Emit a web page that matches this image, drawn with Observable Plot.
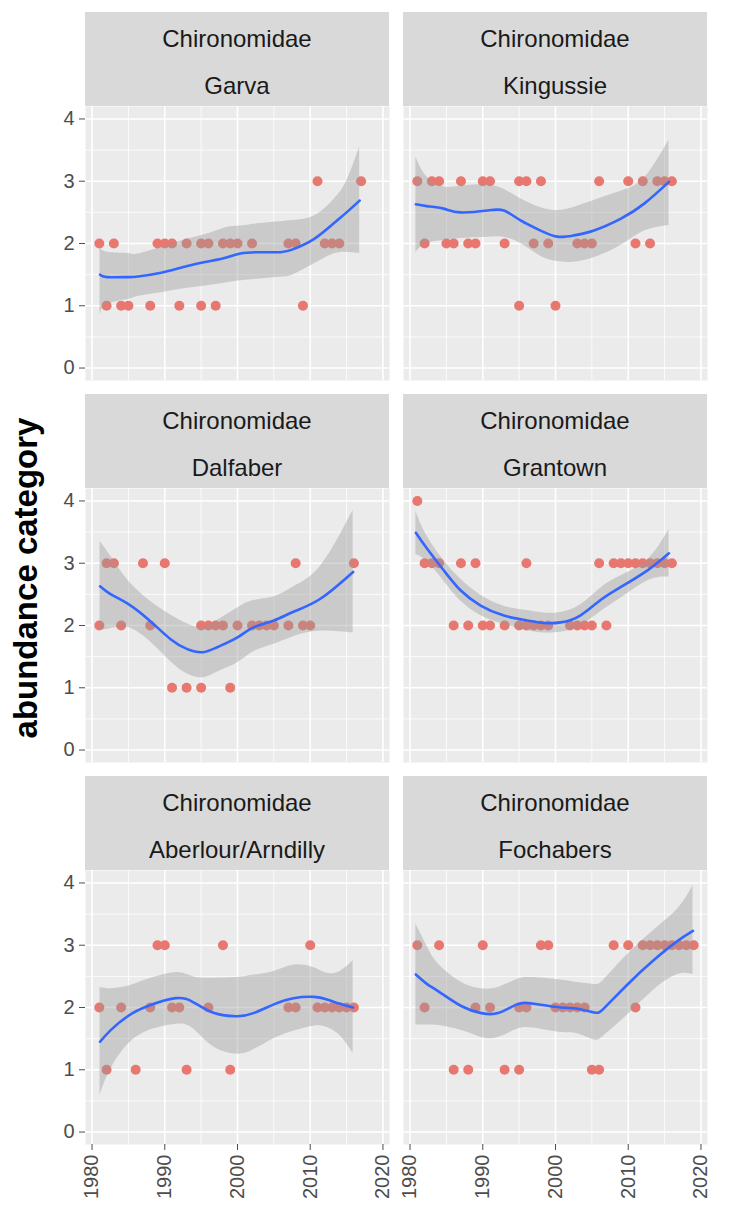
<!DOCTYPE html>
<html>
<head>
<meta charset="utf-8">
<script src="https://cdn.jsdelivr.net/npm/d3@7"></script>
<script src="https://cdn.jsdelivr.net/npm/@observablehq/plot@0.6"></script>
<style>
  html, body { margin: 0; padding: 0; background: #ffffff; }
  #root { position: relative; width: 732px; height: 1209px; background: #ffffff;
          font-family: "Liberation Sans", Arial, sans-serif; overflow: hidden; }
  .strip { position: absolute; background: #D9D9D9; color: #1A1A1A; text-align: center;
           font-size: 24px; line-height: 47px; box-sizing: border-box; padding-top: 3px; }
  .cell { position: absolute; }
  .cell svg { overflow: visible; }
</style>
</head>
<body>
<div id="root"></div>
<script>
// ---------------- data ----------------
const taxon = "Chironomidae";
const sites = ["Garva", "Kingussie", "Dalfaber", "Grantown", "Aberlour/Arndilly", "Fochabers"];
const yTitle = "abundance category";
const yTicks = [0, 1, 2, 3, 4];
const yMinor = [0.5, 1.5, 2.5, 3.5];
const xTicks = [1980, 1990, 2000, 2010, 2020];
const xMinor = [1985, 1995, 2005, 2015];

// observed abundance categories: years for each category
const garvaObs = {1: [1982, 1984, 1985, 1988, 1992, 1995, 1997, 2009],
  2: [1981, 1983, 1989, 1990, 1991, 1993, 1995, 1996, 1998, 1999, 2000, 2002, 2007, 2008, 2012, 2013, 2014],
  3: [2011, 2017]};
const kingussieObs = {1: [1995, 2000],
  2: [1982, 1985, 1986, 1988, 1989, 1993, 1997, 1999, 2003, 2004, 2005, 2011, 2013],
  3: [1981, 1983, 1984, 1987, 1990, 1991, 1995, 1996, 1998, 2006, 2010, 2012, 2014, 2015, 2016]};
const dalfaberObs = {1: [1991, 1993, 1995, 1999],
  2: [1981, 1984, 1988, 1995, 1996, 1997, 1998, 2000, 2002, 2003, 2004, 2005, 2007, 2009, 2010],
  3: [1982, 1983, 1987, 1990, 2008, 2016]};
const grantownObs = {
  2: [1986, 1988, 1990, 1991, 1993, 1995, 1996, 1997, 1998, 1999, 2002, 2003, 2004, 2005, 2007],
  3: [1982, 1983, 1984, 1987, 1989, 1996, 2006, 2008, 2009, 2010, 2011, 2012, 2013, 2014, 2015, 2016],
  4: [1981]};
const aberlourObs = {1: [1982, 1986, 1993, 1999],
  2: [1981, 1984, 1988, 1991, 1992, 1996, 2007, 2008, 2011, 2012, 2013, 2014, 2015, 2016],
  3: [1989, 1990, 1998, 2010]};
const fochabersObs = {1: [1986, 1988, 1993, 1995, 2005, 2006],
  2: [1982, 1989, 1991, 1995, 1996, 2000, 2001, 2002, 2003, 2004, 2011],
  3: [1981, 1984, 1990, 1998, 1999, 2008, 2010, 2012, 2013, 2014, 2015, 2016, 2017, 2018, 2019]};

// loess smooth (fit) with confidence band (lo, hi)
const garvaYear = [1981.1, 1982.1, 1984.9, 1986.3, 1989.5, 1993.1, 1996.3, 1998.6, 2000.4, 2003.1, 2005.9, 2007.7, 2010.5, 2013.2, 2015.0, 2016.8];
const garvaFit  = [1.50, 1.46, 1.46, 1.47, 1.53, 1.64, 1.72, 1.78, 1.84, 1.86, 1.86, 1.91, 2.07, 2.32, 2.50, 2.69];
const garvaHi   = [1.94, 1.86, 1.84, 1.83, 1.94, 2.07, 2.17, 2.26, 2.28, 2.32, 2.35, 2.37, 2.44, 2.70, 3.00, 3.55];
const garvaLo   = [0.84, 1.02, 1.10, 1.15, 1.21, 1.28, 1.33, 1.37, 1.40, 1.43, 1.46, 1.50, 1.67, 1.83, 1.86, 1.84];

const kingussieYear = [1980.8, 1982.3, 1984.6, 1986.9, 1990.6, 1992.9, 1995.2, 1997.9, 2000.2, 2002.5, 2005.3, 2009.0, 2012.2, 2015.6];
const kingussieFit  = [2.63, 2.60, 2.56, 2.50, 2.53, 2.53, 2.37, 2.21, 2.11, 2.13, 2.21, 2.40, 2.64, 2.99];
const kingussieHi   = [3.39, 3.07, 2.91, 2.92, 2.94, 2.87, 2.72, 2.58, 2.53, 2.58, 2.69, 2.84, 3.05, 3.66];
const kingussieLo   = [1.86, 2.00, 2.05, 2.08, 2.10, 2.10, 2.00, 1.80, 1.71, 1.70, 1.77, 1.97, 2.20, 2.29];

const dalfaberYear = [1981.1, 1982.6, 1984.9, 1987.9, 1990.8, 1993.1, 1995.2, 1997.2, 2000.0, 2002.2, 2005.0, 2007.7, 2011.4, 2015.9];
const dalfaberFit  = [2.63, 2.50, 2.35, 2.08, 1.78, 1.62, 1.57, 1.65, 1.81, 1.97, 2.08, 2.22, 2.43, 2.86];
const dalfaberHi   = [3.35, 3.11, 2.73, 2.40, 2.17, 2.03, 1.97, 2.08, 2.28, 2.40, 2.46, 2.62, 2.95, 3.85];
const dalfaberLo   = [1.92, 1.95, 1.97, 1.75, 1.42, 1.22, 1.16, 1.25, 1.40, 1.58, 1.70, 1.82, 1.91, 1.88];

const grantownYear = [1980.8, 1982.3, 1984.6, 1986.9, 1989.7, 1992.9, 1996.1, 1998.4, 2000.7, 2003.4, 2006.2, 2009.0, 2012.7, 2015.6];
const grantownFit  = [3.49, 3.24, 2.89, 2.57, 2.32, 2.16, 2.08, 2.04, 2.05, 2.16, 2.41, 2.62, 2.89, 3.16];
const grantownHi   = [3.84, 3.44, 3.05, 2.75, 2.49, 2.31, 2.24, 2.20, 2.21, 2.33, 2.60, 2.80, 3.06, 3.54];
const grantownLo   = [3.14, 3.03, 2.72, 2.40, 2.16, 2.02, 1.92, 1.88, 1.89, 1.99, 2.22, 2.44, 2.72, 2.78];

const aberlourYear = [1981.1, 1982.6, 1984.9, 1987.6, 1991.5, 1994.0, 1996.8, 2000.0, 2002.2, 2005.0, 2007.7, 2010.5, 2012.3, 2014.1, 2015.9];
const aberlourFit  = [1.45, 1.64, 1.86, 2.02, 2.15, 2.08, 1.91, 1.86, 1.91, 2.05, 2.15, 2.17, 2.13, 2.06, 2.00];
const aberlourHi   = [2.32, 2.30, 2.34, 2.45, 2.56, 2.49, 2.47, 2.48, 2.52, 2.58, 2.68, 2.64, 2.55, 2.58, 2.75];
const aberlourLo   = [0.59, 1.02, 1.40, 1.62, 1.73, 1.65, 1.36, 1.25, 1.32, 1.50, 1.62, 1.70, 1.68, 1.55, 1.26];

const fochabersYear = [1980.8, 1982.3, 1983.9, 1987.1, 1989.8, 1992.1, 1994.7, 1997.0, 2000.7, 2003.0, 2005.3, 2006.7, 2009.9, 2013.6, 2016.8, 2018.9];
const fochabersFit  = [2.53, 2.38, 2.26, 2.02, 1.91, 1.91, 2.05, 2.06, 2.00, 1.98, 1.92, 1.99, 2.37, 2.77, 3.07, 3.23];
const fochabersHi   = [3.34, 2.99, 2.70, 2.40, 2.30, 2.32, 2.45, 2.48, 2.44, 2.40, 2.37, 2.45, 2.85, 3.25, 3.58, 3.96];
const fochabersLo   = [1.72, 1.72, 1.71, 1.63, 1.52, 1.52, 1.65, 1.67, 1.60, 1.58, 1.48, 1.55, 1.88, 2.29, 2.53, 2.53];

const observations = [garvaObs, kingussieObs, dalfaberObs, grantownObs, aberlourObs, fochabersObs];
const smooths = [
  [garvaYear, garvaFit, garvaLo, garvaHi],
  [kingussieYear, kingussieFit, kingussieLo, kingussieHi],
  [dalfaberYear, dalfaberFit, dalfaberLo, dalfaberHi],
  [grantownYear, grantownFit, grantownLo, grantownHi],
  [aberlourYear, aberlourFit, aberlourLo, aberlourHi],
  [fochabersYear, fochabersFit, fochabersLo, fochabersHi]
];

// ---------------- drawing ----------------
const root = document.getElementById("root");
const FONT = '"Liberation Sans", Arial, sans-serif';
const PANEL_W = 304, PANEL_H = 274, ROW_STEP = 382, STRIP_H = 94;

// y axis title
const ns = "http://www.w3.org/2000/svg";
const tsvg = document.createElementNS(ns, "svg");
tsvg.setAttribute("width", 60); tsvg.setAttribute("height", 1209);
tsvg.style.position = "absolute"; tsvg.style.left = "0px"; tsvg.style.top = "0px";
const tt = document.createElementNS(ns, "text");
tt.setAttribute("transform", "translate(37,578) rotate(-90)");
tt.setAttribute("text-anchor", "middle");
tt.setAttribute("font-family", FONT);
tt.setAttribute("font-weight", "bold");
tt.setAttribute("font-size", "33");
tt.setAttribute("fill", "#000");
tt.textContent = yTitle;
tsvg.appendChild(tt);
root.appendChild(tsvg);

sites.forEach((site, i) => {
  const col = i % 2, row = Math.floor(i / 2);
  const isLeft = col === 0, isBottom = row === 2;
  const panelLeft = isLeft ? 85 : 403;

  // strip
  const strip = document.createElement("div");
  strip.className = "strip";
  strip.style.left = panelLeft + "px";
  strip.style.top = (12 + ROW_STEP * row) + "px";
  strip.style.width = PANEL_W + "px";
  strip.style.height = STRIP_H + "px";
  strip.innerHTML = `<div>${taxon}</div><div>${site}</div>`;
  root.appendChild(strip);

  // data tables
  const obs = observations[i];
  const pts = [];
  Object.keys(obs).forEach(k => obs[k].forEach(yr => pts.push({year: yr, abund: +k})));
  const [sy, sf, sl, sh] = smooths[i];
  const fit = sy.map((yr, j) => ({year: yr, fit: sf[j], lo: sl[j], hi: sh[j]}));

  const ml = isLeft ? 85 : 0;
  const mb = isBottom ? 66 : 0;
  const chart = Plot.plot({
    width: ml + PANEL_W + 10,
    height: PANEL_H + mb,
    marginLeft: ml, marginRight: 10, marginTop: 0, marginBottom: mb,
    x: {domain: [1979.1, 2020.9], axis: null, label: null},
    y: {domain: [-0.2, 4.2], axis: null, label: null},
    style: {fontFamily: FONT, fontSize: "20px", background: "transparent", overflow: "visible"},
    marks: [
      Plot.frame({fill: "#EBEBEB", stroke: "none"}),
      Plot.gridY(yMinor, {stroke: "#ffffff", strokeOpacity: 1, strokeWidth: 0.8}),
      Plot.gridX(xMinor, {stroke: "#ffffff", strokeOpacity: 1, strokeWidth: 0.8}),
      Plot.gridY(yTicks, {stroke: "#ffffff", strokeOpacity: 1, strokeWidth: 1.6}),
      Plot.gridX(xTicks, {stroke: "#ffffff", strokeOpacity: 1, strokeWidth: 1.6}),
      Plot.dot(pts, {x: "year", y: "abund", r: 5, fill: "#E8776F", stroke: "none"}),
      Plot.areaY(fit, {x: "year", y1: "lo", y2: "hi", fill: "#999999", fillOpacity: 0.4, curve: "natural"}),
      Plot.line(fit, {x: "year", y: "fit", stroke: "#3366FF", strokeWidth: 2.6, curve: "natural"}),
      isLeft ? Plot.axisY({ticks: yTicks, tickSize: 6, tickPadding: 5, tickFormat: "d", label: null, color: "#4D4D4D", fontSize: 20}) : null,
      isBottom ? Plot.axisX({ticks: xTicks, tickSize: 6, tickPadding: 4, tickRotate: -90, tickFormat: "d", label: null, color: "#4D4D4D", fontSize: 20}) : null
    ]
  });
  const cell = document.createElement("div");
  cell.className = "cell";
  cell.style.left = (isLeft ? 0 : 403) + "px";
  cell.style.top = (106 + ROW_STEP * row) + "px";
  cell.appendChild(chart);
  root.appendChild(cell);
});
</script>
</body>
</html>
